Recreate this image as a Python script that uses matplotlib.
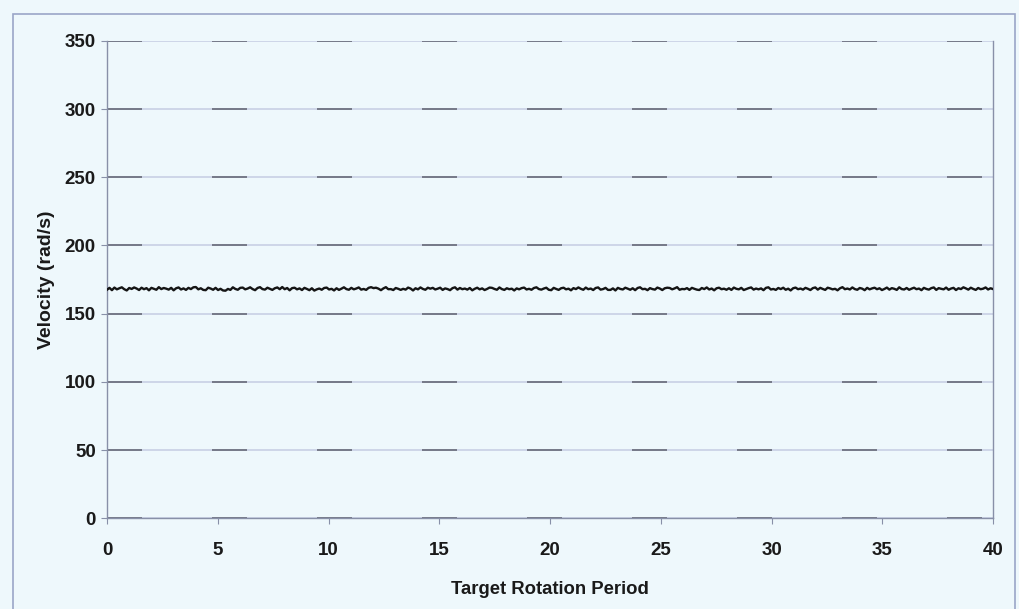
import numpy as np
import matplotlib.pyplot as plt
from matplotlib.patches import Rectangle

plt.rcParams['font.family'] = ['Liberation Sans', 'DejaVu Sans']

# velocity readings (rad/s), evenly spaced over 0-40 rotation periods
velocity = [
    167.5, 168.9, 167.2, 169.1, 167.8, 168.6, 169.3, 167.9, 167.0, 168.8, 168.1, 169.2,
    168.4, 167.3, 169.0, 167.9, 168.7, 167.1, 168.9, 168.2, 167.5, 169.4, 168.0, 168.8,
    168.3, 167.6, 168.9, 167.1, 168.6, 169.2, 167.7, 168.5, 167.4, 168.9, 168.0, 169.3,
    169.5, 167.8, 168.6, 167.4, 167.2, 169.0, 168.4, 167.5, 168.9, 167.3, 168.2, 167.0,
    166.8, 168.1, 167.4, 169.3, 168.1, 167.5, 168.9, 169.1, 167.8, 168.4, 169.3, 168.0,
    167.2, 168.8, 169.4, 168.0, 167.6, 169.0, 168.2, 167.4, 168.6, 169.2, 167.9, 169.5,
    167.9, 168.8, 167.1, 168.7, 169.0, 167.8, 168.5, 167.3, 168.9, 168.1, 167.2, 168.6,
    166.9, 167.8, 168.4, 167.5, 168.8, 169.1, 167.7, 168.2, 167.0, 168.6, 167.4, 168.3,
    169.3, 168.0, 167.5, 168.9, 167.8, 168.4, 169.2, 167.6, 168.1, 167.4, 168.9, 169.4,
    168.7, 169.0, 168.3, 167.2, 168.5, 169.4, 167.9, 168.0, 167.3, 168.8, 168.2, 167.4,
    168.2, 167.6, 169.1, 168.4, 167.0, 168.6, 167.8, 169.2, 168.1, 167.5, 169.0, 168.3,
    168.9, 167.7, 168.3, 169.0, 167.4, 168.5, 168.0, 167.2, 168.7, 169.3, 167.6, 168.8,
    167.9, 168.4, 167.6, 168.8, 167.1, 168.2, 169.0, 167.8, 168.5, 167.3, 168.1, 169.1,
    168.9, 168.1, 167.5, 169.2, 168.0, 167.4, 168.6, 167.9, 168.3, 167.0, 168.5, 167.8,
    168.7, 169.1, 167.7, 168.2, 167.5, 168.8, 169.3, 168.0, 167.6, 168.4, 169.0, 167.5,
    167.2, 168.9, 168.1, 167.4, 168.6, 169.0, 167.8, 168.3, 167.1, 168.7, 168.0, 169.2,
    168.2, 167.5, 169.1, 167.9, 168.4, 167.3, 168.8, 169.2, 167.6, 168.0, 168.9, 167.4,
    167.4, 168.5, 167.0, 168.9, 168.1, 167.7, 169.0, 168.3, 167.5, 168.6, 167.2, 168.8,
    169.3, 167.9, 168.2, 167.2, 168.7, 168.0, 167.6, 169.1, 168.4, 167.3, 168.6, 169.0,
    168.8, 167.8, 168.5, 169.4, 167.5, 168.1, 167.9, 168.7, 167.4, 168.9, 168.2, 167.6,
    167.3, 168.8, 168.0, 169.2, 167.7, 168.4, 167.1, 168.6, 169.0, 167.9, 168.3, 167.5,
    168.6, 167.4, 169.1, 168.2, 167.8, 168.9, 167.3, 168.0, 168.7, 169.2, 167.6, 168.4,
    167.8, 168.5, 167.2, 168.9, 169.3, 167.7, 168.1, 167.4, 168.8, 168.0, 169.0, 167.5,
    168.3, 167.0, 168.6, 169.1, 167.9, 168.4, 167.6, 168.9, 168.2, 167.3, 168.7, 169.2,
    167.6, 168.9, 168.1, 167.4, 169.0, 168.5, 167.8, 168.2, 167.1, 168.6, 169.4, 167.9,
    168.4, 167.7, 169.2, 168.0, 167.5, 168.8, 168.3, 167.2, 168.9, 167.8, 168.5, 169.0,
    167.9, 168.6, 167.3, 168.1, 169.1, 167.6, 168.7, 168.2, 167.4, 169.3, 168.0, 167.7,
    168.8, 167.5, 168.3, 169.0, 167.9, 168.4, 167.2, 168.9, 168.1, 167.6, 168.7, 169.2,
    167.4, 168.7, 168.2, 167.8, 169.1, 167.5, 168.4, 168.9, 167.3, 168.6, 168.0, 169.3,
    168.5, 167.6, 169.0, 168.1, 167.4, 168.8, 167.9, 168.3, 169.2, 167.7, 168.6, 168.0,
]
period = np.linspace(0, 40, len(velocity))

x_ticks = [0, 5, 10, 15, 20, 25, 30, 35, 40]
y_ticks = [0, 50, 100, 150, 200, 250, 300, 350]

bg = '#eef8fc'
fig = plt.figure(figsize=(10.19, 6.09), dpi=100, facecolor=bg)
ax = fig.add_axes([0.105, 0.149, 0.8695, 0.784])
ax.set_facecolor(bg)

# outer frame around the chart area
fig.patches.append(Rectangle((0.013, -0.01), 0.983, 0.987, transform=fig.transFigure,
                             fill=False, edgecolor='#9aa6c8', linewidth=1.2))

for y in y_ticks:
    ax.axhline(y, color='#c8d0e4', linewidth=1.2, zorder=1)
    ax.axhline(y, color='#3a3a48', linewidth=1.4, dashes=(18, 36), alpha=0.6, zorder=1)

ax.plot(period, velocity, color='#151515', linewidth=1.7, zorder=3)

ax.set_xlim(0, 40)
ax.set_ylim(0, 350)
ax.set_xticks(x_ticks)
ax.set_yticks(y_ticks)
ax.tick_params(direction='out', length=4, color='#8890a8', labelsize=13.5)
ax.tick_params(axis='x', pad=13)
ax.tick_params(axis='y', pad=4)
for lab in ax.get_xticklabels() + ax.get_yticklabels():
    lab.set_fontweight('bold')
    lab.set_color('#1a1a1a')
for s in ['left', 'right', 'bottom']:
    ax.spines[s].set_color('#8890a8')
    ax.spines[s].set_linewidth(1.0)
ax.spines['top'].set_visible(False)

ax.set_xlabel('Target Rotation Period', fontsize=13.3, fontweight='bold', color='#1a1a1a', labelpad=16)
ax.set_ylabel('Velocity (rad/s)', fontsize=14, fontweight='bold', color='#1a1a1a', labelpad=7)

plt.savefig('out.png', dpi=100, facecolor=bg)
